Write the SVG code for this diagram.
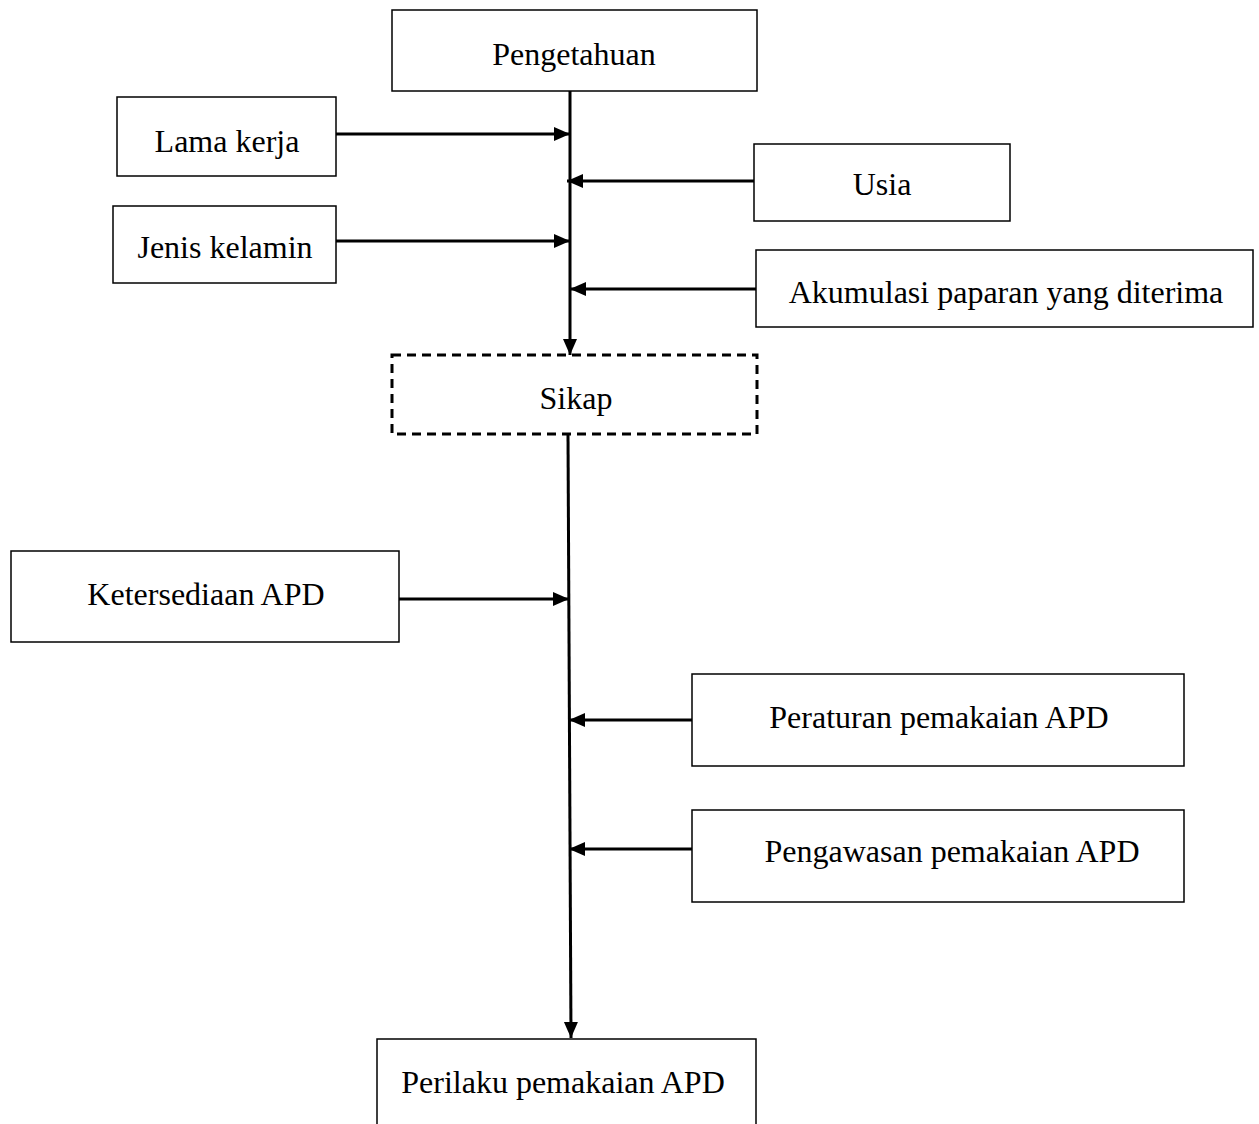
<svg xmlns="http://www.w3.org/2000/svg" width="1259" height="1124" viewBox="0 0 1259 1124">
<style>
.box{fill:#fff;stroke:#000;stroke-width:1.5}
.dash{fill:#fff;stroke:#000;stroke-width:3;stroke-dasharray:9,6}
.lbl{font-family:"Liberation Serif","Times New Roman",serif;font-size:32px;fill:#000;text-anchor:middle}
.con{stroke:#000;stroke-width:3;fill:none}
</style>
<defs>
<marker id="ah" markerUnits="userSpaceOnUse" markerWidth="17" markerHeight="16" refX="16" refY="8" orient="auto">
<path d="M0,1 L16,8 L0,15 Z" fill="#000"/>
</marker>
</defs>
<rect width="1259" height="1124" fill="#fff"/>
<g id="connectors">
<line class="con" x1="570" y1="91" x2="570" y2="355" marker-end="url(#ah)"/>
<line class="con" x1="568" y1="435" x2="571" y2="1038" marker-end="url(#ah)"/>
<line class="con" x1="336" y1="134" x2="570" y2="134" marker-end="url(#ah)"/>
<line class="con" x1="336" y1="241" x2="570" y2="241" marker-end="url(#ah)"/>
<line class="con" x1="754" y1="181" x2="567" y2="181" marker-end="url(#ah)"/>
<line class="con" x1="756" y1="289" x2="570" y2="289" marker-end="url(#ah)"/>
<line class="con" x1="399" y1="599" x2="569" y2="599" marker-end="url(#ah)"/>
<line class="con" x1="692" y1="720" x2="569" y2="720" marker-end="url(#ah)"/>
<line class="con" x1="692" y1="849" x2="569" y2="849" marker-end="url(#ah)"/>
</g>
<g id="pengetahuan"><rect class="box" x="392" y="10" width="365" height="81"/><text class="lbl" x="574" y="65">Pengetahuan</text></g>
<g id="lama-kerja"><rect class="box" x="117" y="97" width="219" height="79"/><text class="lbl" x="227" y="152">Lama kerja</text></g>
<g id="usia"><rect class="box" x="754" y="144" width="256" height="77"/><text class="lbl" x="882" y="195">Usia</text></g>
<g id="jenis-kelamin"><rect class="box" x="113" y="206" width="223" height="77"/><text class="lbl" x="225" y="258">Jenis kelamin</text></g>
<g id="akumulasi"><rect class="box" x="756" y="250" width="497" height="77"/><text class="lbl" x="1006" y="303">Akumulasi paparan yang diterima</text></g>
<g id="sikap"><rect class="dash" x="392" y="355" width="365" height="79"/><text class="lbl" x="576" y="409">Sikap</text></g>
<g id="ketersediaan"><rect class="box" x="11" y="551" width="388" height="91"/><text class="lbl" x="206" y="605">Ketersediaan APD</text></g>
<g id="peraturan"><rect class="box" x="692" y="674" width="492" height="92"/><text class="lbl" x="939" y="728">Peraturan pemakaian APD</text></g>
<g id="pengawasan"><rect class="box" x="692" y="810" width="492" height="92"/><text class="lbl" x="952" y="862">Pengawasan pemakaian APD</text></g>
<g id="perilaku"><path class="box" d="M377,1124 V1039 H756 V1124"/><text class="lbl" x="563" y="1093">Perilaku pemakaian APD</text></g>
</svg>
